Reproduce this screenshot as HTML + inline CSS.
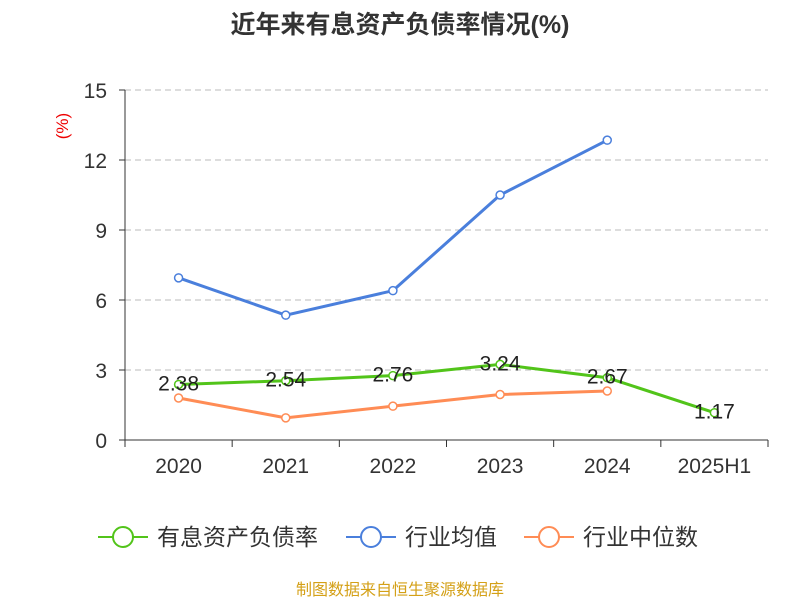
<!DOCTYPE html>
<html><head><meta charset="utf-8">
<style>
body{margin:0;background:#fff;font-family:"Liberation Sans","Noto Sans CJK SC",sans-serif;}
svg text{font-family:"Liberation Sans","Noto Sans CJK SC",sans-serif;}
</style></head>
<body>
<svg id="c" width="800" height="600">
<text x="400" y="33" text-anchor="middle" font-size="25" font-weight="bold" fill="#333">近年来有息资产负债率情况(%)</text>
<text x="68" y="126" text-anchor="middle" font-size="17" fill="#e00" transform="rotate(-90 68 126)">(%)</text>
<g id="grid"></g><g id="axes"></g><g id="series"></g>
<g>
<g><line x1="98" y1="537" x2="148" y2="537" stroke="#52c41a" stroke-width="2"/><circle cx="123" cy="537" r="10" fill="#fff" stroke="#52c41a" stroke-width="2"/><text x="157" y="545" font-size="23" fill="#333">有息资产负债率</text></g>
<g><line x1="346" y1="537" x2="396" y2="537" stroke="#4a7fdc" stroke-width="2"/><circle cx="371" cy="537" r="10" fill="#fff" stroke="#4a7fdc" stroke-width="2"/><text x="405" y="545" font-size="23" fill="#333">行业均值</text></g>
<g><line x1="524" y1="537" x2="574" y2="537" stroke="#ff8c55" stroke-width="2"/><circle cx="549" cy="537" r="10" fill="#fff" stroke="#ff8c55" stroke-width="2"/><text x="583" y="545" font-size="23" fill="#333">行业中位数</text></g>
</g>
<text x="400" y="595" text-anchor="middle" font-size="16" fill="#d4a017">制图数据来自恒生聚源数据库</text>
</svg>
<script>
const categories=["2020","2021","2022","2023","2024","2025H1"];
const debtRatio=[2.38,2.54,2.76,3.24,2.67,1.17];
const industryAvg=[6.95,5.35,6.4,10.5,12.85];
const industryMedian=[1.8,0.95,1.45,1.95,2.1];
const yTicks=[0,3,6,9,12,15];
const NS="http://www.w3.org/2000/svg";
const x0=125,x1=768,y0=440,yTop=90,yMax=15;
const step=(x1-x0)/categories.length;
const xs=i=>x0+step*(i+0.5);
const ys=v=>y0-(v/yMax)*(y0-yTop);
function mk(tag,attrs,parent,txt){const e=document.createElementNS(NS,tag);for(const k in attrs)e.setAttribute(k,attrs[k]);if(txt!==undefined)e.textContent=txt;document.getElementById(parent).appendChild(e);return e;}
yTicks.forEach(t=>{
 if(t>0){const g=mk('line',{x1:x0,x2:x1,y1:ys(t),y2:ys(t),stroke:'#bbb','stroke-dasharray':'6,4'},'grid');
 
 }
 const tl=mk('text',{x:x0-18,y:ys(t)+8,'text-anchor':'end','font-size':'21',fill:'#333'},'axes',String(t));
 
 
 const tk=mk('line',{x1:x0-6,x2:x0,y1:ys(t),y2:ys(t),stroke:'#333'},'axes');
 
 
});
const ya=mk('line',{x1:x0,x2:x0,y1:yTop,y2:y0,stroke:'#333'},'axes');


const xa=mk('line',{x1:x0,x2:x1,y1:y0,y2:y0,stroke:'#333'},'axes');


for(let i=0;i<=categories.length;i++){const tk=mk('line',{x1:x0+step*i,x2:x0+step*i,y1:y0,y2:y0+7,stroke:'#333'},'axes');
 
 }
categories.forEach((c,i)=>{const t=mk('text',{x:xs(i),y:y0+33,'text-anchor':'middle','font-size':'21',fill:'#333'},'axes',c);
 
 });
function series(vals,color,name,labels){
 const pts=vals.map((v,i)=>xs(i)+','+ys(v)).join(' ');
 const pl=mk('polyline',{points:pts,fill:'none',stroke:color,'stroke-width':3},'series');
 
 
 vals.forEach((v,i)=>{const c=mk('circle',{cx:xs(i),cy:ys(v),r:4,fill:'#fff',stroke:color,'stroke-width':1.5},'series');
  
  
  if(labels){const t=mk('text',{x:xs(i),y:ys(v)+6,'text-anchor':'middle','font-size':'21',fill:'#222'},'series',v.toFixed(2));
  
  }
 });
}
series(industryAvg,'#4a7fdc','industry-average',false);
series(industryMedian,'#ff8c55','industry-median',false);
series(debtRatio,'#52c41a','debt-ratio',true);
</script>
</body></html>
